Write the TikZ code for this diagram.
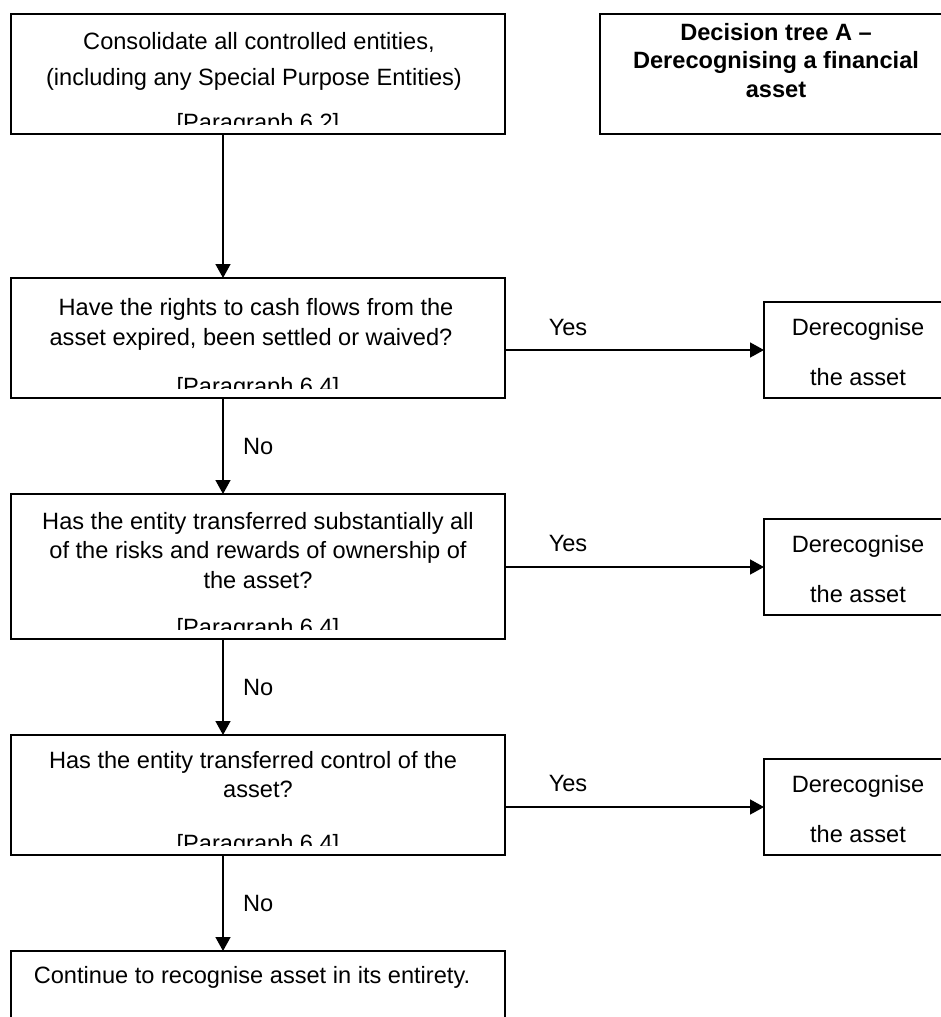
\documentclass[tikz,border=0pt]{standalone}
\usepackage{fontspec}
\setmainfont{Liberation Sans}
\usetikzlibrary{arrows.meta}
\begin{document}
\begin{tikzpicture}[x=1pt,y=-1pt,
  every node/.style={font=\fontsize{23.6}{28}\selectfont, inner sep=0pt, outer sep=0pt},
  box/.style={draw, line width=1.8pt, rectangle},
  wide/.style={box, minimum width=494pt},
  side/.style={box, minimum width=188pt},
  txt/.style={anchor=base},
  lbl/.style={anchor=base west},
  flow/.style={line width=1.5pt, -{Triangle[length=14pt,width=15pt]}}]
\useasboundingbox (0,0) rectangle (941,1017);
\clip (0,0) rectangle (941,1017);

% main column of boxes
\node[wide, minimum height=120pt] (b1) at (258,74) {};
\node[wide, minimum height=120pt] (b2) at (258,338) {};
\node[wide, minimum height=145pt] (b3) at (258,566.5) {};
\node[wide, minimum height=120pt] (b4) at (258,795) {};
\node[wide, minimum height=120pt] (b5) at (258,1011) {};

% title box and outcome boxes on the right
\node[box, minimum width=353pt, minimum height=120pt] (title) at (776.5,74) {};
\node[side, minimum height=96pt] (d1) at (858,350) {};
\node[side, minimum height=96pt] (d2) at (858,567) {};
\node[side, minimum height=96pt] (d3) at (858,807) {};

% texts of the first box
\node[txt] (t1a) at (259,49) {Consolidate all controlled entities,};
\node[txt] (t1b) at (254,85) {(including any Special Purpose Entities)};
\begin{scope}
  \clip (11,14) rectangle (505,124);
  \node[txt] (t1c) at (258,130) {[Paragraph 6.2]};
\end{scope}

% title text
\node[txt, font=\fontsize{23.6}{28}\selectfont\bfseries] (tt1) at (776,40) {Decision tree A –};
\node[txt, font=\fontsize{23.6}{28}\selectfont\bfseries] (tt2) at (776,68) {Derecognising a financial};
\node[txt, font=\fontsize{23.6}{28}\selectfont\bfseries] (tt3) at (776,97) {asset};

% second box
\node[txt] (t2a) at (256,315) {Have the rights to cash flows from the};
\node[txt] (t2b) at (251,345) {asset expired, been settled or waived?};
\begin{scope}
  \clip (11,278) rectangle (505,388);
  \node[txt] (t2c) at (258,394) {[Paragraph 6.4]};
\end{scope}

% third box
\node[txt] (t3a) at (258,529) {Has the entity transferred substantially all};
\node[txt] (t3b) at (258,558) {of the risks and rewards of ownership of};
\node[txt] (t3c) at (258,588) {the asset?};
\begin{scope}
  \clip (11,494) rectangle (505,629);
  \node[txt] (t3d) at (258,635) {[Paragraph 6.4]};
\end{scope}

% fourth box
\node[txt] (t4a) at (253,768) {Has the entity transferred control of the};
\node[txt] (t4b) at (258,797) {asset?};
\begin{scope}
  \clip (11,735) rectangle (505,845);
  \node[txt] (t4c) at (258,851) {[Paragraph 6.4]};
\end{scope}

% last box
\node[txt] (t5) at (252,983) {Continue to recognise asset in its entirety.};

% outcome texts
\foreach \n/\y in {1/302, 2/519, 3/759} {
  \node[txt] (dt\n a) at (858,\y+33) {Derecognise};
  \node[txt] (dt\n b) at (858,\y+83) {the asset};
}

% connectors
\coordinate (ax) at (223,0);
\draw[flow] (b1.south -| ax) -- (b2.north -| ax);
\draw[flow] (b2.south -| ax) -- (b3.north -| ax);
\draw[flow] (b3.south -| ax) -- (b4.north -| ax);
\draw[flow] (b4.south -| ax) -- (b5.north -| ax);
\draw[flow] (d1.west -| b2.east) -- (d1.west);
\draw[flow] (d2.west -| b3.east) -- (d2.west);
\draw[flow] (d3.west -| b4.east) -- (d3.west);

% branch labels
\node[txt] (y1) at (568,335.5) {Yes};
\node[txt] (y2) at (568,551.5) {Yes};
\node[txt] (y3) at (568,791.5) {Yes};
\node[lbl] (n1) at (243,454.5) {No};
\node[lbl] (n2) at (243,695.5) {No};
\node[lbl] (n3) at (243,911.5) {No};
\end{tikzpicture}
\end{document}
